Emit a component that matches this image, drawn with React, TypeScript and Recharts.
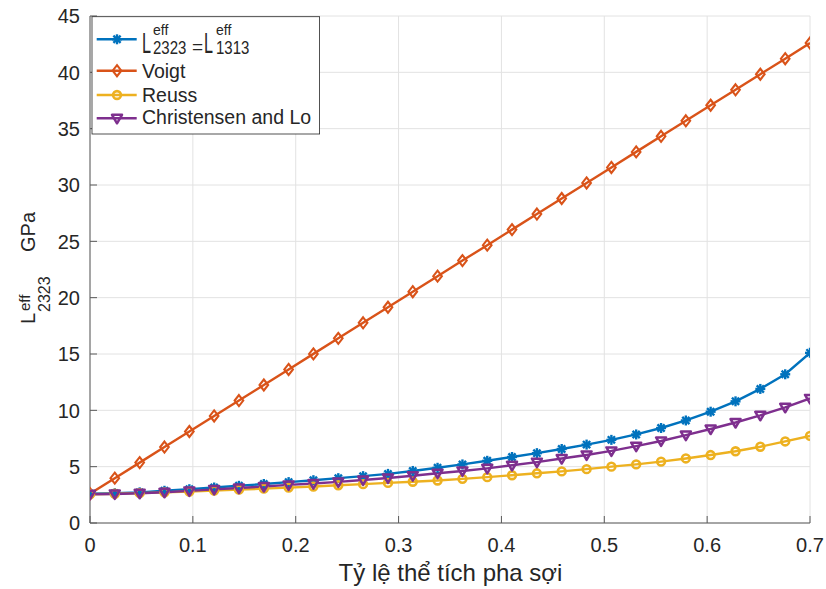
import React from "react";
import { LineChart, Line, XAxis, YAxis, CartesianGrid } from "recharts";

const volumeFraction = [
  0, 0.0241, 0.0483, 0.0724, 0.0966, 0.1207, 0.1448, 0.169, 0.1931, 0.2172,
  0.2414, 0.2655, 0.2897, 0.3138, 0.3379, 0.3621, 0.3862, 0.4103, 0.4345, 0.4586,
  0.4828, 0.5069, 0.531, 0.5552, 0.5793, 0.6034, 0.6276, 0.6517, 0.6759, 0.7,
];
const l2323 = [
  2.6, 2.64, 2.72, 2.86, 3.0, 3.15, 3.3, 3.46, 3.63, 3.8,
  3.98, 4.16, 4.36, 4.62, 4.9, 5.2, 5.52, 5.86, 6.2, 6.57,
  6.96, 7.38, 7.86, 8.43, 9.1, 9.88, 10.8, 11.9, 13.2, 15.1,
];
const voigt = [
  2.6, 3.98, 5.36, 6.74, 8.12, 9.5, 10.87, 12.25, 13.63, 15.01,
  16.39, 17.77, 19.15, 20.53, 21.91, 23.29, 24.66, 26.04, 27.42, 28.8,
  30.18, 31.56, 32.94, 34.32, 35.7, 37.08, 38.45, 39.83, 41.21, 42.6,
];
const reuss = [
  2.55, 2.6, 2.65, 2.72, 2.8, 2.88, 2.96, 3.05, 3.14, 3.24,
  3.35, 3.45, 3.56, 3.66, 3.77, 3.92, 4.07, 4.24, 4.41, 4.58,
  4.78, 5.0, 5.2, 5.45, 5.73, 6.03, 6.37, 6.77, 7.24, 7.73,
];
const christensenLo = [
  2.55, 2.58, 2.64, 2.73, 2.85, 2.98, 3.1, 3.24, 3.38, 3.5,
  3.65, 3.82, 4.0, 4.2, 4.42, 4.62, 4.85, 5.12, 5.4, 5.72,
  6.04, 6.4, 6.82, 7.28, 7.8, 8.34, 8.92, 9.56, 10.27, 11.06,
];
const xTicks = [0, 0.1, 0.2, 0.3, 0.4, 0.5, 0.6, 0.7];
const yTicks = [0, 5, 10, 15, 20, 25, 30, 35, 40, 45];
const xLabel = "Tỷ lệ thể tích pha sợi";
const legendNames = ["Voigt", "Reuss", "Christensen and Lo"];

const data = volumeFraction.map((x, i) => ({
  x,
  l2323: l2323[i],
  voigt: voigt[i],
  reuss: reuss[i],
  cl: christensenLo[i],
}));

const BLUE = "#0072BD";
const ORANGE = "#D95319";
const YELLOW = "#EDB120";
const PURPLE = "#7E2F8E";
const AXIS = "#5a5a5a";
const BOX = "#8a8a8a";
const TEXT = "#262626";
const FONT = "'Liberation Sans', Arial, Helvetica, sans-serif";
const TL = 7;
const LW = 2.4;

const Asterisk = ({ cx, cy, color }: any) => {
  if (cx == null || cy == null) return null;
  const r = 5;
  const d = r * 0.72;
  return (
    <g stroke={color} strokeWidth={2.4}>
      <line x1={cx - r} y1={cy} x2={cx + r} y2={cy} />
      <line x1={cx} y1={cy - r} x2={cx} y2={cy + r} />
      <line x1={cx - d} y1={cy - d} x2={cx + d} y2={cy + d} />
      <line x1={cx - d} y1={cy + d} x2={cx + d} y2={cy - d} />
    </g>
  );
};
const Diamond = ({ cx, cy, color }: any) => {
  if (cx == null || cy == null) return null;
  return (
    <polygon
      points={`${cx},${cy - 5.5} ${cx + 4.3},${cy} ${cx},${cy + 5.5} ${cx - 4.3},${cy}`}
      fill="none"
      stroke={color}
      strokeWidth={2.1}
    />
  );
};
const Circle = ({ cx, cy, color }: any) => {
  if (cx == null || cy == null) return null;
  return <circle cx={cx} cy={cy} r={3.9} fill="none" stroke={color} strokeWidth={2.6} />;
};
const TriDown = ({ cx, cy, color }: any) => {
  if (cx == null || cy == null) return null;
  return (
    <polygon
      points={`${cx - 5},${cy - 3.5} ${cx + 5},${cy - 3.5} ${cx},${cy + 5}`}
      fill="none"
      stroke={color}
      strokeWidth={2.5}
      strokeLinejoin="round"
    />
  );
};

const fmt = (v: number) => String(v);

const LeftTick = ({ x, y, payload }: any) => {
  const ax = x + 10;
  return (
    <g>
      <line x1={ax} x2={ax + TL} y1={y} y2={y} stroke={AXIS} strokeWidth={1} />
      <text x={x} y={y} dy="0.36em" textAnchor="end" fontSize={20} fill={TEXT} fontFamily={FONT}>
        {fmt(payload.value)}
      </text>
    </g>
  );
};
const BottomTick = ({ x, y, payload }: any) => {
  const ay = y - 29;
  return (
    <g>
      <line x1={x} x2={x} y1={ay} y2={ay - TL} stroke={AXIS} strokeWidth={1} />
      <text x={x} y={y} textAnchor="middle" fontSize={20} fill={TEXT} fontFamily={FONT}>
        {fmt(payload.value)}
      </text>
    </g>
  );
};
const RightTick = ({ x, y }: any) => (
  <line x1={x} x2={x - TL} y1={y} y2={y} stroke={AXIS} strokeWidth={1} />
);
const TopTick = ({ x, y }: any) => (
  <line x1={x} x2={x} y1={y} y2={y + TL} stroke={AXIS} strokeWidth={1} />
);

export default function App() {
  const W = 826;
  const H = 589;
  const lgX = 92;
  const lgY = 16.7;
  const rowsY = [39.3, 70.7, 95, 118.3];
  const textBase = [53, 77.5, 102, 124];
  const lineX1 = 96.7;
  const lineX2 = 136.7;
  const mX = 117;
  const txtX = 142;
  const markers = [Asterisk, Diamond, Circle, TriDown];
  const colors = [BLUE, ORANGE, YELLOW, PURPLE];

  return (
    <div style={{ position: "relative", width: W, height: H, overflow: "hidden" }}>
      <style>{`html,body{margin:0;padding:0;overflow:hidden;}`}</style>
      <LineChart
        width={W}
        height={H}
        data={data}
        margin={{ top: 16, right: 16, left: 0, bottom: 0 }}
      >
        <CartesianGrid stroke="#e2e2e2" strokeWidth={1} />
        <XAxis
          dataKey="x"
          type="number"
          domain={[0, 0.7]}
          ticks={xTicks}
          height={66}
          tickSize={0}
          tickMargin={29}
          tick={<BottomTick />}
          axisLine={{ stroke: AXIS }}
          tickLine={false}
          allowDataOverflow
        />
        <XAxis
          xAxisId="top"
          orientation="top"
          dataKey="x"
          type="number"
          domain={[0, 0.7]}
          ticks={xTicks}
          height={0}
          tickSize={0}
          tickMargin={0}
          tick={<TopTick />}
          axisLine={{ stroke: BOX }}
          tickLine={false}
        />
        <YAxis
          type="number"
          domain={[0, 45]}
          ticks={yTicks}
          width={90}
          tickSize={0}
          tickMargin={10}
          tick={<LeftTick />}
          axisLine={{ stroke: AXIS }}
          tickLine={false}
          allowDataOverflow
        />
        <YAxis
          yAxisId="right"
          orientation="right"
          type="number"
          domain={[0, 45]}
          ticks={yTicks}
          width={0}
          tickSize={0}
          tickMargin={0}
          tick={<RightTick />}
          axisLine={{ stroke: BOX }}
          tickLine={false}
        />
        <Line
          dataKey="l2323"
          stroke={BLUE}
          strokeWidth={LW}
          isAnimationActive={false}
          dot={(p: any) => <Asterisk key={`a${p.index}`} cx={p.cx} cy={p.cy} color={BLUE} />}
        />
        <Line
          dataKey="voigt"
          stroke={ORANGE}
          strokeWidth={LW}
          isAnimationActive={false}
          dot={(p: any) => <Diamond key={`d${p.index}`} cx={p.cx} cy={p.cy} color={ORANGE} />}
        />
        <Line
          dataKey="reuss"
          stroke={YELLOW}
          strokeWidth={LW}
          isAnimationActive={false}
          dot={(p: any) => <Circle key={`c${p.index}`} cx={p.cx} cy={p.cy} color={YELLOW} />}
        />
        <Line
          dataKey="cl"
          stroke={PURPLE}
          strokeWidth={LW}
          isAnimationActive={false}
          dot={(p: any) => <TriDown key={`t${p.index}`} cx={p.cx} cy={p.cy} color={PURPLE} />}
        />
      </LineChart>
      <svg
        width={W}
        height={H}
        style={{ position: "absolute", left: 0, top: 0, pointerEvents: "none" }}
        fontFamily={FONT}
      >
        <text x={450.5} y={581} textAnchor="middle" fontSize={24} fill={TEXT}>
          {xLabel}
        </text>
        <g transform="translate(35,324) rotate(-90)" fill={TEXT}>
          <text x={0} y={0} fontSize={20}>L</text>
          <text x={13} y={-5} fontSize={15}>eff</text>
          <text x={12} y={15} fontSize={16}>2323</text>
          <text x={72} y={0} fontSize={20}>GPa</text>
        </g>
        <rect x={lgX} y={lgY} width={227.6} height={117.3} fill="#fff" stroke={TEXT} strokeWidth={0.8} />
        {colors.map((c, i) => {
          const M = markers[i];
          return (
            <g key={i}>
              <line x1={lineX1} x2={lineX2} y1={rowsY[i]} y2={rowsY[i]} stroke={c} strokeWidth={LW} />
              <M cx={mX} cy={rowsY[i]} color={c} />
            </g>
          );
        })}
        <g fill={TEXT}>
          <text transform={`translate(${txtX},${textBase[0]}) scale(0.85,1.55)`} fontSize={19}>L</text>
          <text x={153} y={35} fontSize={14}>eff</text>
          <text transform={`translate(153,${textBase[0] + 1}) scale(1,1.2)`} fontSize={15}>2323</text>
          <text x={192} y={textBase[0]} fontSize={19}>=</text>
          <text transform={`translate(204,${textBase[0]}) scale(0.85,1.55)`} fontSize={19}>L</text>
          <text x={216} y={35} fontSize={14}>eff</text>
          <text transform={`translate(216,${textBase[0] + 1}) scale(1,1.2)`} fontSize={15}>1313</text>
          {legendNames.map((n, i) => (
            <text key={n} x={txtX} y={textBase[i + 1]} fontSize={19.5}>
              {n}
            </text>
          ))}
        </g>
      </svg>
    </div>
  );
}
